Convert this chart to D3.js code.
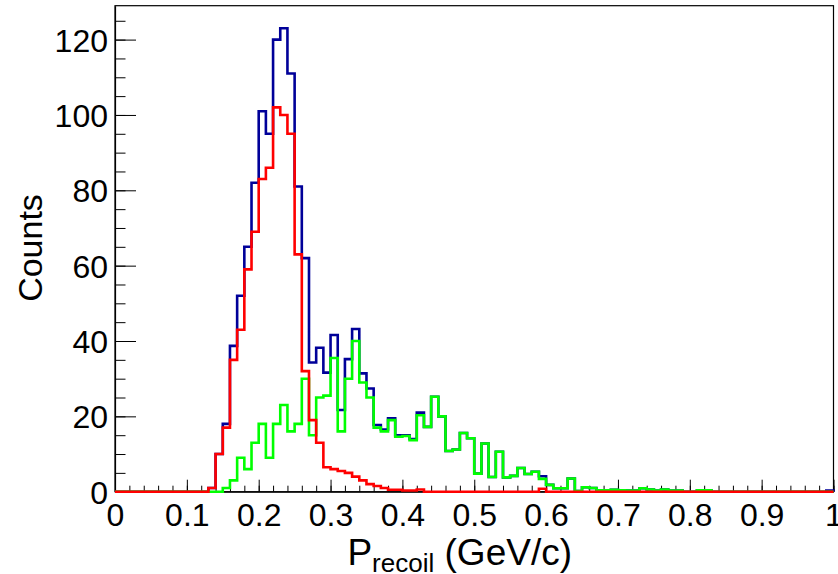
<!DOCTYPE html>
<html lang="en">
<head>
<meta charset="UTF-8">
<title>P recoil histogram</title>
<script src="https://d3js.org/d3.v7.min.js"></script>
<style>
    body { margin: 0; background: #fff; }
    svg { display: block; }
    text { font-family: "Liberation Sans", Arial, Helvetica, sans-serif; fill: #000; }
    .tick line { stroke: #000; stroke-width: 1px; }
</style>
</head>
<body>
<svg width="838" height="574"></svg>
<script>
// bin edges: 100 bins of 0.01 from 0 to 1, values are bin contents (bin i -> [i/100, (i+1)/100])
const nBins = 100;
const binLow = d3.range(nBins).map(i => i / 100);

// total (dark blue)
const total = [
    0, 0, 0, 0, 0, 0, 0, 0, 0, 0,
    0, 0, 0, 1, 10, 18, 38.7, 52, 65, 82,
    101, 95, 120, 123, 111, 81, 62, 34.3, 38.2, 31.6,
    41.6, 21.7, 35.2, 43.2, 31.4, 27.4, 17.7, 16.5, 19.5, 15,
    15, 14, 21, 17.2, 25.2, 20, 10.8, 11.2, 15.6, 14.2,
    4.8, 12.8, 3.9, 10.6, 3.8, 4.2, 6.3, 4.7, 5.3, 4.1,
    1.8, 0.9, 0.9, 3.5, 0.2, 1.2, 1, 0.4, 0.4, 0.5,
    0.4, 0.3, 0.3, 0.9, 0.6, 0.3, 0.6, 0.3, 0.3, 0,
    0, 0.4, 0.4, 0, 0, 0, 0, 0, 0, 0,
    0, 0, 0, 0, 0, 0, 0, 0, 0, 0.3
];

// red component
const redHist = [
    0, 0, 0, 0, 0, 0, 0, 0, 0, 0,
    0, 0, 0, 1, 10, 17, 35, 43, 59, 69,
    83, 86, 102, 100, 95, 63, 32, 19, 13, 6.5,
    6, 5.5, 5, 4, 3, 2, 1.5, 1, 0.5, 0.5,
    0.3, 0.3, 0.6, 0, 0, 0, 0, 0, 0, 0,
    0, 0, 0, 0, 0, 0, 0, 0, 0, 0.8,
    0, 0, 0, 0, 0, 0, 0, 0, 0, 0,
    0, 0, 0, 0, 0, 0, 0, 0, 0, 0,
    0, 0, 0, 0, 0, 0, 0, 0, 0, 0,
    0, 0, 0, 0, 0, 0, 0, 0, 0, 0
];

// green component
const greenHist = [
    0, 0, 0, 0, 0, 0, 0, 0, 0, 0,
    0, 0, 0, 0, 0, 1, 3, 9, 6, 13,
    18, 9, 18, 23, 16, 18, 30, 15, 25, 25.5,
    35.5, 16, 30, 40, 29, 25, 17, 16, 19, 14.6,
    14.8, 13.7, 20.3, 17.2, 25.2, 20, 10.8, 11.2, 15.6, 14.2,
    4.8, 12.8, 3.9, 10.6, 3.8, 4.2, 6.3, 4.7, 5.3, 3.4,
    1.8, 0.9, 0.9, 3.5, 0.2, 1.2, 1, 0.4, 0.4, 0.5,
    0.4, 0.3, 0.3, 0.9, 0.6, 0.3, 0.6, 0.3, 0.3, 0,
    0, 0.4, 0.4, 0, 0, 0, 0, 0, 0, 0,
    0, 0, 0, 0, 0, 0, 0, 0, 0, 0
];

const xMajor = d3.range(0, 11).map(i => i / 10);
const xMinor = d3.range(0, 51).map(i => i / 50);
const yMajor = [0, 20, 40, 60, 80, 100, 120];
const yMinor = d3.range(0, 130, 5);

const svg = d3.select("svg");
const frame = {left: 115, right: 833.5, top: 5.7, bottom: 491.7};

const x = d3.scaleLinear().domain([0, 1]).range([frame.left, frame.right]);
const y = d3.scaleLinear().domain([0, 129]).range([frame.bottom, frame.top]);

// frame box
svg.append("rect")
    .attr("x", frame.left)
    .attr("y", frame.top)
    .attr("width", frame.right - frame.left)
    .attr("height", frame.bottom - frame.top)
    .attr("fill", "none")
    .attr("stroke", "#000")
    .attr("stroke-width", 1.2);

// x axis: minor then major ticks, pointing inward
svg.append("g")
    .attr("transform", "translate(0," + frame.bottom + ")")
    .call(d3.axisBottom(x).tickValues(xMinor).tickSize(-6).tickFormat(""))
    .call(g => g.select(".domain").remove());

const xAxis = svg.append("g")
    .attr("transform", "translate(0," + frame.bottom + ")")
    .call(d3.axisBottom(x).tickValues(xMajor).tickSize(-12).tickSizeOuter(0)
        .tickFormat(d => d === 0 ? "0" : d === 1 ? "1" : d.toFixed(1)));
xAxis.select(".domain").attr("stroke", "#000").attr("stroke-width", 1.2);
xAxis.selectAll("text")
    .attr("y", 34.5)
    .attr("dy", null)
    .style("font-size", "32px");

// y axis
svg.append("g")
    .attr("transform", "translate(" + frame.left + ",0)")
    .call(d3.axisLeft(y).tickValues(yMinor).tickSize(-10.5).tickFormat(""))
    .call(g => g.select(".domain").remove());

const yAxis = svg.append("g")
    .attr("transform", "translate(" + frame.left + ",0)")
    .call(d3.axisLeft(y).tickValues(yMajor).tickSize(-21).tickSizeOuter(0).tickPadding(7));
yAxis.select(".domain").attr("stroke", "#000").attr("stroke-width", 1.2);
yAxis.selectAll("text")
    .attr("dy", "0.36em")
    .style("font-size", "32px");

// histograms drawn as step outlines
function histPath(values) {
    const pts = [[0, 0]];
    values.forEach((v, i) => {
        pts.push([binLow[i], v]);
        pts.push([binLow[i] + 0.01, v]);
    });
    pts.push([1, 0]);
    return d3.line().x(d => x(d[0])).y(d => y(d[1]))(pts);
}

const series = [
    {values: total, color: "#000099"},
    {values: greenHist, color: "#00ff00"},
    {values: redHist, color: "#ff0000"}
];

svg.selectAll(".hist")
    .data(series)
  .enter().append("path")
    .attr("class", "hist")
    .attr("d", d => histPath(d.values))
    .attr("fill", "none")
    .attr("stroke", d => d.color)
    .attr("stroke-width", 2.6)
    .attr("stroke-linejoin", "miter");

// axis titles
svg.append("text")
    .attr("transform", "translate(42,248) rotate(-90)")
    .attr("text-anchor", "middle")
    .style("font-size", "34px")
    .text("Counts");

const xt = svg.append("text")
    .attr("x", 572)
    .attr("y", 565)
    .attr("text-anchor", "end")
    .style("font-size", "37px");
xt.append("tspan").text("P");
xt.append("tspan").attr("dy", 7).style("font-size", "26px").text("recoil");
xt.append("tspan").attr("dy", -7).text(" (GeV/c)");
</script>
</body>
</html>
